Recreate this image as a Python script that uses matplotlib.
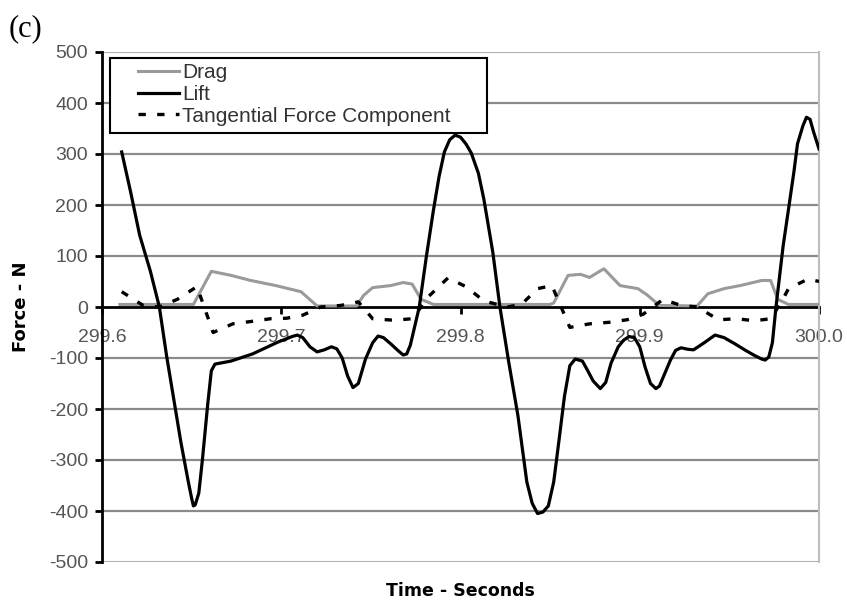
import matplotlib
matplotlib.use("Agg")
import matplotlib.pyplot as plt
from matplotlib.patches import Rectangle

# ---------------- data ----------------
lift_t = [299.611, 299.616, 299.621, 299.627, 299.632, 299.636, 299.640, 299.644,
          299.648, 299.650, 299.651, 299.652, 299.654, 299.656, 299.659, 299.661,
          299.663, 299.666, 299.672, 299.684, 299.698, 299.706, 299.709, 299.712,
          299.716, 299.720, 299.724, 299.728, 299.731, 299.734, 299.737, 299.740,
          299.743, 299.747, 299.751, 299.754, 299.757, 299.761, 299.765, 299.768,
          299.770, 299.772, 299.774, 299.777, 299.781, 299.785, 299.788, 299.791,
          299.794, 299.797, 299.800, 299.803, 299.806, 299.810, 299.813, 299.818,
          299.822, 299.827, 299.832, 299.837, 299.840, 299.843, 299.846, 299.849,
          299.852, 299.855, 299.858, 299.861, 299.864, 299.868, 299.871, 299.874,
          299.878, 299.881, 299.884, 299.888, 299.891, 299.894, 299.897, 299.900,
          299.903, 299.906, 299.909, 299.911, 299.914, 299.917, 299.920, 299.923,
          299.927, 299.930, 299.936, 299.942, 299.947, 299.953, 299.959, 299.964,
          299.968, 299.970, 299.972, 299.974, 299.976, 299.980, 299.983, 299.986,
          299.988, 299.991, 299.993, 299.995, 299.997, 300.000]
lift_f = [304, 225, 141, 70, 0, -95, -180, -265,
          -340, -375, -390, -388, -365, -300, -190, -125,
          -112, -110, -106, -92, -69, -58, -55, -60,
          -78, -88, -84, -78, -82, -100, -135, -158,
          -150, -102, -70, -57, -60, -72, -85, -94,
          -92, -75, -45, 0, 100, 192, 255, 304,
          328, 337, 333, 320, 302, 262, 212, 108,
          0, -110, -212, -343, -385, -405, -402, -390,
          -343, -260, -175, -115, -102, -106, -125, -145,
          -160, -148, -110, -78, -65, -58, -60, -78,
          -118, -150, -160, -155, -130, -105, -85, -80,
          -83, -84, -70, -55, -60, -72, -85, -95,
          -102, -104, -98, -70, 0, 120, 192, 265,
          320, 355, 372, 368, 343, 310]

drag_t = [299.610, 299.651, 299.661, 299.672, 299.683, 299.697, 299.711, 299.720,
          299.742, 299.746, 299.751, 299.761, 299.768, 299.773, 299.778, 299.785,
          299.850, 299.852, 299.860, 299.867, 299.872, 299.880, 299.889, 299.899,
          299.904, 299.911, 299.932, 299.938, 299.947, 299.956, 299.968, 299.973,
          299.977, 299.983, 300.000]
drag_f = [5, 5, 70, 62, 52, 42, 30, 2,
          2, 23, 38, 42, 48, 45, 15, 5,
          5, 8, 62, 64, 58, 75, 42, 36,
          24, 3, 2, 26, 36, 42, 52, 52,
          15, 5, 5]

tang_t = [299.611, 299.623, 299.632, 299.642, 299.653, 299.662, 299.673, 299.684,
          299.694, 299.703, 299.712, 299.722, 299.733, 299.743, 299.751, 299.763,
          299.773, 299.778, 299.782, 299.793, 299.803, 299.813, 299.826, 299.834,
          299.843, 299.851, 299.861, 299.872, 299.883, 299.893, 299.902, 299.913,
          299.923, 299.932, 299.944, 299.954, 299.964, 299.973, 299.979, 299.983,
          299.994, 300.000]
tang_f = [30, 3, 0, 15, 40, -50, -33, -28,
          -23, -22, -16, 0, 3, 10, -23, -26,
          -23, 0, 20, 57, 40, 12, 0, 5,
          36, 42, -40, -33, -30, -25, -14, 15,
          3, 0, -25, -23, -27, -23, 10, 36,
          55, 50]

x_ticks = [299.6, 299.7, 299.8, 299.9, 300.0]
x_tick_labels = ["299.6", "299.7", "299.8", "299.9", "300.0"]
y_ticks = [-500, -400, -300, -200, -100, 0, 100, 200, 300, 400, 500]

# ---------------- figure ----------------
W, H = 847, 601
fig = plt.figure(figsize=(W / 100, H / 100), dpi=100)
fig.patch.set_facecolor("white")
ax = fig.add_axes([102 / W, 1 - 562 / H, (819 - 102) / W, (562 - 52) / H])

font = "Liberation Sans"
tick_col = "#555555"

# gridlines
for yv in y_ticks:
    if yv in (0, 500, -500):
        continue
    ax.axhline(yv, color="#8a8a8a", lw=1.6, zorder=1)
ax.axhline(500, color="#b0b0b0", lw=1.5, zorder=1)
ax.axhline(-500, color="#b0b0b0", lw=1.5, zorder=1)

ax.plot(drag_t, drag_f, color="#9a9a9a", lw=2.2, zorder=3, label="Drag")
ax.plot(lift_t, lift_f, color="black", lw=2.3, zorder=4, label="Lift")
ax.plot(tang_t, tang_f, color="black", lw=2.4, linestyle=(0, (2.2, 3.4)),
        zorder=3, label="Tangential Force Component")

ax.set_xlim(299.6, 300.0)
ax.set_ylim(-500, 500)

# spines
ax.spines["top"].set_visible(False)
ax.spines["right"].set_color("#bdbdbd")
ax.spines["right"].set_linewidth(1.5)
ax.spines["left"].set_color("black")
ax.spines["left"].set_linewidth(2.0)
ax.spines["bottom"].set_position(("data", 0))
ax.spines["bottom"].set_color("black")
ax.spines["bottom"].set_linewidth(2.0)
ax.spines["bottom"].set_zorder(2)

ax.set_xticks(x_ticks)
ax.set_xticklabels(x_tick_labels)
ax.set_yticks(y_ticks)
ax.set_yticklabels([str(v) for v in y_ticks])
ax.tick_params(axis="x", direction="out", length=5, width=2, pad=11,
               labelsize=14, colors="black", labelcolor=tick_col)
ax.tick_params(axis="y", direction="out", length=5, width=2, pad=5,
               labelsize=14, labelcolor=tick_col)
for lab in ax.get_xticklabels() + ax.get_yticklabels():
    lab.set_fontfamily(font)

ax.set_ylabel("Force - N", fontsize=13, fontweight="bold", family="DejaVu Sans")
ax.yaxis.set_label_coords(-0.100, 0.5)
ax.set_xlabel("Time - Seconds", fontsize=12.5, fontweight="bold", family="DejaVu Sans")
ax.xaxis.set_label_coords(0.5, -0.040)

# legend inside a square box
box = Rectangle((110 / W, 1 - 133 / H), (487 - 110) / W, (133 - 58) / H,
                transform=fig.transFigure, facecolor="white",
                edgecolor="black", lw=1.5, zorder=9, clip_on=False)
ax.add_patch(box)
leg = ax.legend(loc="upper left", bbox_to_anchor=(135 / W, 1 - 60 / H),
                bbox_transform=fig.transFigure, frameon=False,
                prop={"family": font, "size": 15}, handlelength=1.95,
                handletextpad=0.15, labelspacing=0.13, borderpad=0.15,
                borderaxespad=0)
for txt in leg.get_texts():
    txt.set_color("#333333")
leg.set_zorder(10)

fig.text(9 / W, 1 - 29 / H, "(c)", family="Liberation Serif", fontsize=22,
         va="center", ha="left")

fig.savefig("out.png", dpi=100, facecolor="white")
